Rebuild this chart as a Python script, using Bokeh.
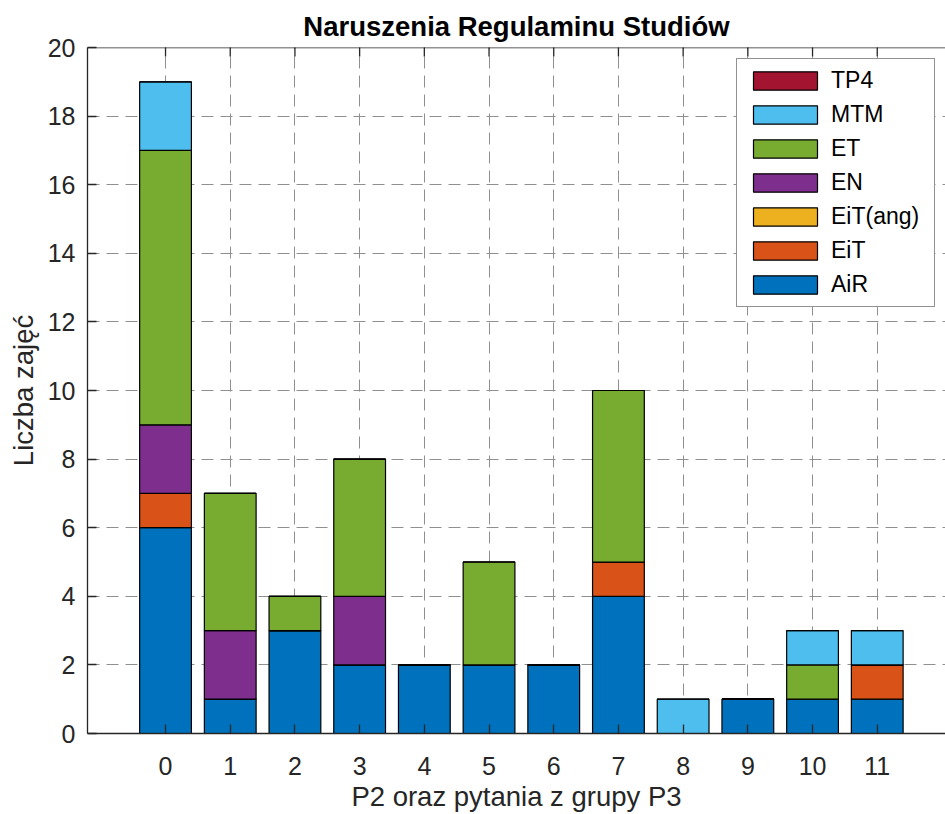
import math
from bokeh.plotting import figure
from bokeh.models import Range1d, FixedTicker, Legend, LegendItem, ColumnDataSource, Span
from bokeh.embed import file_html
from bokeh.resources import INLINE

# ---- data ----
categories = [0, 1, 2, 3, 4, 5, 6, 7, 8, 9, 10, 11]
series_names = ["AiR", "EiT", "EiT(ang)", "EN", "ET", "MTM", "TP4"]
AiR      = [6, 1, 3, 2, 2, 2, 2, 4, 0, 1, 1, 1]
EiT      = [1, 0, 0, 0, 0, 0, 0, 1, 0, 0, 0, 1]
EiT_ang  = [0, 0, 0, 0, 0, 0, 0, 0, 0, 0, 0, 0]
EN       = [2, 2, 0, 2, 0, 0, 0, 0, 0, 0, 0, 0]
ET       = [8, 4, 1, 4, 0, 3, 0, 5, 0, 0, 1, 0]
MTM      = [2, 0, 0, 0, 0, 0, 0, 0, 1, 0, 1, 1]
TP4      = [0, 0, 0, 0, 0, 0, 0, 0, 0, 0, 0, 0]
y_ticks = [0, 2, 4, 6, 8, 10, 12, 14, 16, 18, 20]
y_max = 20

colors = ["#0072BD", "#D95319", "#EDB120", "#7E2F8E", "#77AC30", "#4DBEEE", "#A2142F"]

keys = ["s0", "s1", "s2", "s3", "s4", "s5", "s6"]
src = ColumnDataSource(dict(x=categories, s0=AiR, s1=EiT, s2=EiT_ang, s3=EN,
                            s4=ET, s5=MTM, s6=TP4))

FONT = "Liberation Sans"
TXT = "#262626"

p = figure(width=945, height=814,
           x_range=Range1d(-1.206, 12.055), y_range=Range1d(0, y_max),
           output_backend="svg", toolbar_location=None,
           title="Naruszenia Regulaminu Studiów",
           min_border_left=87, min_border_right=0, min_border_top=47,
           min_border_bottom=72)

p.title.align = "center"
p.title.vertical_align = "top"
p.title.text_font = FONT
p.title.text_font_size = "27.5px"
p.title.text_font_style = "bold"
p.title.text_color = "#000000"
p.title.standoff = 8

renderers = p.vbar_stack(keys, x="x", width=0.8, source=src,
                         fill_color=colors, line_color="#000000", line_width=1.2)

# axes
p.xaxis.ticker = FixedTicker(ticks=categories)
p.yaxis.ticker = FixedTicker(ticks=y_ticks)
for ax in (p.xaxis[0], p.yaxis[0]):
    ax.major_tick_in = 9
    ax.major_tick_out = 0
    ax.minor_tick_line_color = None
    ax.axis_line_color = TXT
    ax.axis_line_width = 1.3
    ax.major_tick_line_color = TXT
    ax.major_tick_line_width = 1.3
    ax.major_label_text_font = FONT
    ax.major_label_text_font_size = "25px"
    ax.major_label_text_color = TXT
    ax.axis_label_text_font = FONT
    ax.axis_label_text_font_size = "27.5px"
    ax.axis_label_text_font_style = "normal"
    ax.axis_label_text_color = TXT

p.xaxis.axis_label = "P2 oraz pytania z grupy P3"
p.yaxis.axis_label = "Liczba zajęć"
p.xaxis.major_label_standoff = 23
p.xaxis.axis_label_standoff = 3
p.yaxis.major_label_standoff = 12
p.yaxis.axis_label_standoff = 6

# box: top edge line (right edge lies outside the picture, as in the reference)
p.outline_line_color = None
p.add_layout(Span(location=y_max, dimension="width", line_color=TXT, line_width=1.3))

# tick marks on the top edge of the box; the half outside the frame is clipped
p.scatter(x=categories, y=[y_max] * len(categories), marker="dash", size=18,
          angle=math.pi / 2, line_color=TXT, line_width=1.3)

# grid
p.grid.grid_line_color = "#8f8f8f"
p.grid.grid_line_dash = "12 7"
p.grid.grid_line_width = 1

# legend (top to bottom: reverse stacking order)
items = [LegendItem(label=name, renderers=[r])
         for name, r in reversed(list(zip(series_names, renderers)))]
legend = Legend(items=items, location=(649, 426), margin=0,
                glyph_width=80, glyph_height=23,
                label_text_font=FONT, label_text_font_size="23px",
                label_text_color="#000000",
                label_standoff=6, label_width=95,
                padding=8, spacing=7,
                border_line_color=TXT, border_line_width=1,
                background_fill_color="white", background_fill_alpha=1)
p.add_layout(legend)

open("out.html", "w").write(file_html(p, INLINE))
